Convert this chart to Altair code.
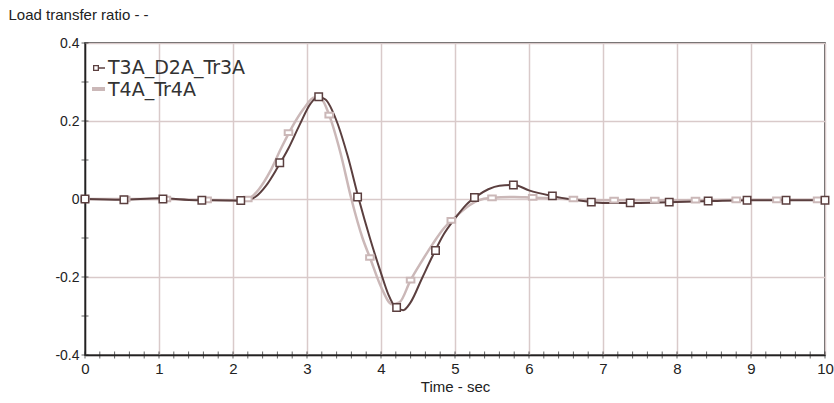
import altair as alt
import pandas as pd

# Series 1: T3A_D2A_Tr3A (dark) - line samples
dark_t = [0, 0.5, 1.0, 1.5, 2.0, 2.15, 2.3, 2.45, 2.6, 2.75, 2.9, 3.05, 3.15, 3.25, 3.4, 3.55,
          3.7, 3.85, 4.0, 4.1, 4.2, 4.3, 4.4, 4.55, 4.7, 4.85, 5.0, 5.15, 5.3, 5.45, 5.6, 5.8,
          6.0, 6.3, 6.6, 7.0, 7.5, 8.0, 8.5, 9.0, 9.5, 10]
dark_v = [0.0, -0.002, 0.002, -0.003, -0.004, -0.005, 0.005, 0.035, 0.08, 0.13, 0.19, 0.245, 0.262,
          0.255, 0.2, 0.11, 0.0, -0.1, -0.19, -0.245, -0.278, -0.285, -0.265, -0.205, -0.145,
          -0.09, -0.05, -0.015, 0.008, 0.025, 0.034, 0.036, 0.022, 0.008, -0.002, -0.01, -0.01,
          -0.008, -0.005, -0.003, -0.003, -0.003]
# Series 1 markers
dark_mt = [0, 0.526, 1.053, 1.579, 2.105, 2.632, 3.158, 3.684, 4.211, 4.737, 5.263, 5.789,
           6.316, 6.842, 7.368, 7.895, 8.421, 8.947, 9.474, 10.0]
dark_mv = [0.0, -0.002, 0.0, -0.003, -0.004, 0.093, 0.262, 0.005, -0.278, -0.132, 0.004, 0.036,
           0.008, -0.008, -0.01, -0.008, -0.005, -0.003, -0.003, -0.003]

# Series 2: T4A_Tr4A (light) - line samples
light_t = [0, 0.5, 1.0, 1.5, 2.0, 2.2, 2.35, 2.5, 2.65, 2.8, 2.95, 3.1, 3.2, 3.3, 3.45, 3.6,
           3.75, 3.85, 4.0, 4.15, 4.25, 4.4, 4.55, 4.7, 4.85, 4.96, 5.1, 5.3, 5.5, 5.8, 6.0,
           6.5, 7.0, 8.0, 9.0, 10]
light_v = [0.0, 0.0, 0.0, -0.002, -0.003, 0.0, 0.025, 0.07, 0.13, 0.185, 0.23, 0.26, 0.255,
           0.215, 0.12, 0.0, -0.1, -0.15, -0.225, -0.27, -0.265, -0.208, -0.16, -0.115, -0.075,
           -0.054, -0.03, -0.005, 0.003, 0.005, 0.004, 0.0, -0.003, -0.003, -0.002, -0.002]
# Series 2 markers
light_mt = [0, 0.55, 1.1, 1.65, 2.2, 2.75, 3.3, 3.85, 4.4, 4.95, 5.5, 6.05, 6.6, 7.15, 7.7,
            8.25, 8.8, 9.35, 9.9]
light_mv = [0.0, 0.0, 0.0, -0.002, 0.0, 0.17, 0.215, -0.15, -0.208, -0.055, 0.003, 0.004, 0.0,
            -0.003, -0.003, -0.003, -0.002, -0.002, -0.002]

x_ticks = list(range(0, 11))
y_ticks = [-0.4, -0.2, 0, 0.2, 0.4]
x_minor = [round(i * 0.2, 1) for i in range(0, 51)]
y_minor = [round(-0.4 + i * 0.1, 1) for i in range(0, 9)]

DARK = "#5b3f3f"
LIGHT = "#cbb8b8"
GRID = "#d9caca"
FONT = "Liberation Sans Narrow, Liberation Sans, Arial, sans-serif"

dark_line = pd.DataFrame({"t": dark_t, "v": dark_v})
dark_mk = pd.DataFrame({"t": dark_mt, "v": dark_mv})
light_line = pd.DataFrame({"t": light_t, "v": light_v})
light_mk = pd.DataFrame({"t": light_mt, "v": light_mv})

xs = alt.Scale(domain=[0, 10], nice=False, zero=False)
ys = alt.Scale(domain=[-0.4, 0.4], nice=False, zero=False)

X = alt.X("t:Q", scale=xs, axis=alt.Axis(
    values=x_ticks, title="Time - sec", grid=True, gridColor=GRID, gridWidth=1.5,
    ticks=False, labelPadding=6, labelFontSize=15, labelFont=FONT, labelColor="#222",
    labelExpr="toString(datum.value)",
    titleFont=FONT, titleFontSize=15, titleFontWeight="normal", titleColor="#222",
    titlePadding=3, domainColor="#222", domainWidth=1.5, labelFlush=False))
Y = alt.Y("v:Q", scale=ys, axis=alt.Axis(
    values=y_ticks, title="Load transfer ratio - -", grid=True, gridColor=GRID, gridWidth=1.5,
    ticks=False, labelPadding=6, labelFontSize=14, labelFont=FONT, labelColor="#222",
    labelExpr="toString(datum.value)",
    titleFont=FONT, titleFontSize=15, titleFontWeight="normal", titleColor="#222",
    titleAngle=0, titleAlign="left", titleBaseline="alphabetic", titleX=-77, titleY=-24,
    domainColor="#222", domainWidth=1.5))

base_light = alt.Chart(light_line).mark_line(color=LIGHT, strokeWidth=2.5, interpolate="monotone").encode(x=X, y=Y)
base_dark = alt.Chart(dark_line).mark_line(color=DARK, strokeWidth=2, interpolate="monotone").encode(x="t:Q", y="v:Q")
mk_light = alt.Chart(light_mk).mark_point(
    shape="M-1.2,-0.75H1.2V0.75H-1.2Z", size=40, filled=True, fill="white",
    stroke=LIGHT, strokeWidth=2, opacity=1).encode(x="t:Q", y="v:Q")
mk_dark = alt.Chart(dark_mk).mark_point(
    shape="square", size=55, filled=True, fill="white",
    stroke=DARK, strokeWidth=1.5, opacity=1).encode(x="t:Q", y="v:Q")

xt = alt.Chart(pd.DataFrame({"t": x_minor})).mark_tick(
    orient="vertical", size=7, thickness=1, color="#222").encode(x="t:Q", y=alt.datum(-0.4))
yt = alt.Chart(pd.DataFrame({"v": y_minor})).mark_tick(
    orient="horizontal", size=7, thickness=1, color="#222").encode(y="v:Q", x=alt.datum(0))

# legend (decoration)
leg = [
    alt.Chart().mark_rule(color=DARK, strokeWidth=1.5).encode(x=alt.value(10), x2=alt.value(20), y=alt.value(25)),
    alt.Chart().mark_point(shape="square", size=22, filled=True, fill="white", stroke=DARK,
                           strokeWidth=1.3, opacity=1).encode(x=alt.value(11), y=alt.value(25)),
    alt.Chart().mark_text(text="T3A_D2A_Tr3A", align="left", baseline="alphabetic", font="DejaVu Sans",
                          fontSize=19, color="#333").encode(x=alt.value(23), y=alt.value(31)),
    alt.Chart().mark_rule(color=LIGHT, strokeWidth=4).encode(x=alt.value(7), x2=alt.value(20), y=alt.value(46)),
    alt.Chart().mark_text(text="T4A_Tr4A", align="left", baseline="alphabetic", font="DejaVu Sans",
                          fontSize=19, color="#333").encode(x=alt.value(23), y=alt.value(53)),
]

chart = alt.layer(base_light, base_dark, xt, yt, mk_light, mk_dark, *leg).properties(
    width=740, height=312,
    autosize=alt.AutoSizeParams(type="none"),
    padding={"left": 85, "top": 43, "right": 9, "bottom": 48},
    background="white",
).configure_view(stroke="#222", strokeWidth=1.5)

chart.save("out.html", embed_options={"renderer": "svg", "actions": False})
